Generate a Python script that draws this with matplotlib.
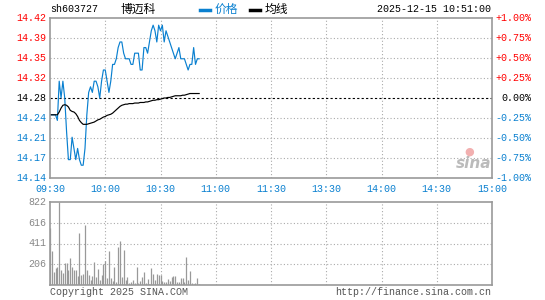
import numpy as np
import matplotlib
matplotlib.use("Agg")
import matplotlib.pyplot as plt
from matplotlib import rcParams

rcParams['font.family'] = ['Liberation Mono', 'Noto Sans CJK SC', 'DejaVu Sans']

# 基本信息
code = "sh603727"
name = "博迈科"
stamp = "2025-12-15 10:51:00"
prev_close = 14.28

# 分时价格（09:30 起每分钟）
price = [14.25, 14.25, 14.25, 14.25, 14.24, 14.31, 14.28, 14.31, 14.28, 14.22,
         14.17, 14.17, 14.21, 14.19, 14.17, 14.19, 14.17, 14.16, 14.16, 14.19,
         14.25, 14.29, 14.30, 14.29, 14.31, 14.31, 14.30, 14.28, 14.31, 14.33,
         14.33, 14.31, 14.29, 14.31, 14.34, 14.34, 14.35, 14.37, 14.38, 14.38,
         14.36, 14.35, 14.35, 14.35, 14.34, 14.34, 14.36, 14.36, 14.36, 14.33,
         14.33, 14.37, 14.37, 14.36, 14.38, 14.40, 14.41, 14.40, 14.38, 14.41,
         14.40, 14.41, 14.38, 14.40, 14.39, 14.38, 14.37, 14.36, 14.35, 14.36,
         14.37, 14.35, 14.35, 14.35, 14.34, 14.33, 14.34, 14.34, 14.37, 14.34,
         14.35, 14.35]

# 均价线
avg_price = [14.250, 14.250, 14.250, 14.250, 14.250, 14.255, 14.262, 14.267, 14.268, 14.267,
             14.264, 14.258, 14.256, 14.255, 14.252, 14.247, 14.240, 14.236, 14.233, 14.233,
             14.233, 14.234, 14.235, 14.236, 14.237, 14.239, 14.241, 14.242, 14.244, 14.246,
             14.247, 14.249, 14.250, 14.251, 14.253, 14.256, 14.259, 14.262, 14.265, 14.267,
             14.268, 14.269, 14.269, 14.270, 14.270, 14.270, 14.271, 14.271, 14.271, 14.272,
             14.272, 14.272, 14.273, 14.273, 14.274, 14.275, 14.276, 14.276, 14.277, 14.277,
             14.278, 14.279, 14.280, 14.280, 14.281, 14.281, 14.282, 14.283, 14.284, 14.284,
             14.284, 14.284, 14.285, 14.285, 14.286, 14.287, 14.288, 14.288, 14.288, 14.288,
             14.288, 14.288]

# 成交量
volume = [560, 337, 124, 167, 183, 822, 150, 118, 216, 216,
          144, 265, 177, 144, 150, 92, 511, 101, 111, 593,
          150, 101, 46, 85, 229, 79, 157, 52, 101, 210,
          239, 69, 337, 69, 43, 177, 26, 373, 435, 79,
          347, 46, 79, 20, 33, 46, 20, 174, 20, 36,
          79, 124, 20, 59, 10, 167, 108, 46, 111, 101,
          101, 36, 30, 33, 59, 36, 79, 92, 92, 26,
          33, 69, 69, 26, 275, 52, 141, 20, 13, 20,
          72, 13]

time_labels = ["09:30", "10:00", "10:30", "11:00", "11:30", "13:30", "14:00", "14:30", "15:00"]
price_labels = ["14.42", "14.39", "14.35", "14.32", "14.28", "14.24", "14.21", "14.17", "14.14"]
pct_labels = ["+1.00%", "+0.75%", "+0.50%", "+0.25%", "0.00%", "-0.25%", "-0.50%", "-0.75%", "-1.00%"]
vol_labels = ["822", "616", "411", "206"]

W, H = 545, 300
RED = '#ff0000'
BLUE = '#0a80d0'
GRAY = '#999999'


def px(x, y):
    return x / W, 1 - y / H


fig = plt.figure(figsize=(W / 100, H / 100), dpi=100)
ax = fig.add_axes([50 / W, 1 - 178 / H, 442 / W, 160 / H])
axv = fig.add_axes([50 / W, 1 - 285 / H, 442 / W, 83 / H])

lo, hi = prev_close * 0.99, prev_close * 1.01
minutes = np.arange(len(price))
grid_kw = dict(color='#aaaaaa', lw=0.8, linestyle=(0, (1, 2)))

# 主图和量图共用的框与竖网格
for a in (ax, axv):
    a.set_xlim(0, 240)
    a.set_xticks([])
    a.set_yticks([])
    for s in a.spines.values():
        s.set_color(GRAY)
        s.set_linewidth(1.2)
    for k in range(1, 8):
        a.axvline(k * 30, **grid_kw)

ax.set_ylim(lo, hi)
levels = np.linspace(hi, lo, 9)
for k, lv in enumerate(levels):
    if k in (0, 8):
        continue
    if k == 4:
        ax.axhline(lv, color='black', lw=0.8, linestyle=(0, (2, 2)))
    else:
        ax.axhline(lv, **grid_kw)

ax.plot(minutes, price, color=BLUE, lw=0.85)
ax.plot(minutes, avg_price, color='black', lw=0.85)

# 左右刻度
for k, (pl, cl) in enumerate(zip(price_labels, pct_labels)):
    y = 18 + k * 20
    c = RED if k < 4 else ('black' if k == 4 else BLUE)
    fig.text(*px(46, y), pl, color=c, fontsize=7.2, ha='right', va='center')
    fig.text(*px(531, y), cl, color=c, fontsize=7.2, ha='right', va='center')

for k, tl in enumerate(time_labels):
    fig.text(*px(50 + k * 442 / 8, 189), tl, color=BLUE, fontsize=7.2, ha='center', va='center')

# 成交量
axv.set_ylim(0, 822)
for k in range(1, 4):
    axv.axhline(822 * k / 4, **grid_kw)
axv.vlines(minutes, 0, volume, color=GRAY, lw=0.9)
for k, vl in enumerate(vol_labels):
    fig.text(*px(46, 202 + k * 83 / 4), vl, color='#888888', fontsize=7.2, ha='right', va='center')

# 标题行
cjk = ['Noto Sans CJK SC', 'DejaVu Sans']
fig.text(*px(50, 9), code, color='black', fontsize=7.2, ha='left', va='center')
fig.text(*px(138, 9), name, color='black', fontsize=8.5, ha='center', va='center', family=cjk)
fig.add_artist(plt.Line2D([200 / W, 210 / W], [1 - 10 / H, 1 - 10 / H], color=BLUE, lw=2.5))
fig.text(*px(215, 9), "价格", color=BLUE, fontsize=8.5, ha='left', va='center', family=cjk)
fig.add_artist(plt.Line2D([250 / W, 260 / W], [1 - 10 / H, 1 - 10 / H], color='black', lw=2.5))
fig.text(*px(265, 9), "均线", color='black', fontsize=8.5, ha='left', va='center', family=cjk)
fig.text(*px(491, 9), stamp, color='black', fontsize=7.2, ha='right', va='center')

# 水印
fig.text(*px(474, 163), "sina", color='#bbbbbb', fontsize=11, ha='center', va='center',
         style='italic', weight='bold', family=['DejaVu Sans'])
fig.text(*px(469, 152), "●", color='#f2b0b0', fontsize=8, ha='center', va='center',
         family=['DejaVu Sans'])

# 底部
fig.text(*px(50, 292), "Copyright 2025 SINA.COM", color='#555555', fontsize=7.2, ha='left', va='center')
fig.text(*px(491, 292), "http://finance.sina.com.cn", color='#555555', fontsize=7.2, ha='right', va='center')

fig.savefig("out.png", dpi=100)
